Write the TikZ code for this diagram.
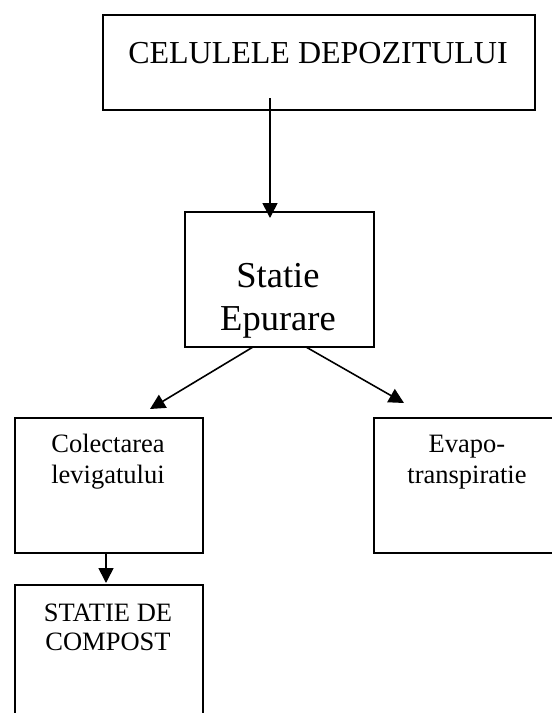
\documentclass[tikz,border=0pt]{standalone}
\usepackage{fontspec}
\setmainfont{Liberation Serif}
\usetikzlibrary{arrows.meta,calc}
\begin{document}
\begin{tikzpicture}[x=1pt,y=-1pt,
  box/.style={draw,line width=1.8pt,rectangle,inner sep=0pt,anchor=north west},
  lbl/.style={inner sep=0pt,anchor=base},
  big/.style={font=\fontsize{32}{38}\selectfont},
  mid/.style={font=\fontsize{36.5}{43}\selectfont},
  sml/.style={font=\fontsize{26.5}{31}\selectfont},
  arr/.style={line width=1.6pt,-{Triangle[length=15pt,width=15pt]}}]
\path[use as bounding box] (0,0) rectangle (552,713);
\clip (0,0) rectangle (552,713);
% boxes
\node[box,minimum width=432pt,minimum height=95pt] (b1) at (102,14) {};
\node[box,minimum width=189pt,minimum height=135pt] (b2) at (184,211) {};
\node[box,minimum width=188pt,minimum height=135pt] (b3) at (14,417) {};
\node[box,minimum width=188pt,minimum height=135pt] (b4) at (373,417) {};
\node[box,minimum width=188pt,minimum height=150pt] (b5) at (14,584) {};
% texts
\node[lbl,big] (t1) at (318,63) {CELULELE DEPOZITULUI};
\node[lbl,mid] (t2a) at (278,287) {Statie};
\node[lbl,mid] (t2b) at (278,330) {Epurare};
\node[lbl,sml] (t3a) at (108,452) {Colectarea};
\node[lbl,sml] (t3b) at (108,483) {levigatului};
\node[lbl,sml] (t4a) at (467,452) {Evapo-};
\node[lbl,sml] (t4b) at (467,483) {transpiratie};
\node[lbl,sml] (t5a) at (108,621) {STATIE DE};
\node[lbl,sml] (t5b) at (108,650) {COMPOST};
% connectors
\coordinate (a1s) at (270,98);
\coordinate (a1e) at (270,218);
\coordinate (a2s) at (253,347);
\coordinate (a2e) at (150,409);
\coordinate (a3s) at (306,347);
\coordinate (a3e) at (404,403);
\coordinate (a4s) at (106,553);
\coordinate (a4e) at (106,583);
\draw[arr] (a1s) -- (a1e);
\draw[arr] (a2s) -- (a2e);
\draw[arr] (a3s) -- (a3e);
\draw[arr] (a4s) -- (a4e);
\end{tikzpicture}
\end{document}
